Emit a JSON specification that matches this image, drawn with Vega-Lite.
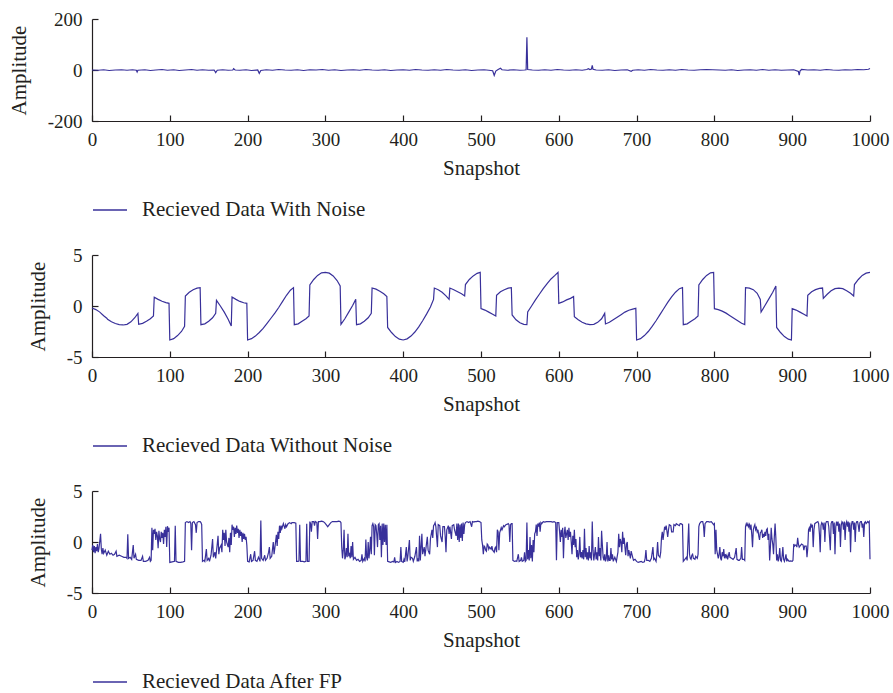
{
"$schema": "https://vega.github.io/schema/vega-lite/v6.json",
"background": "white",
"padding": {"left": 8, "top": 10, "right": 5, "bottom": 5},
"bounds": "flush",
"spacing": 134,
"config": {
  "font": "Liberation Serif",
  "view": {"stroke": null},
  "axis": {"domainColor": "#231f20", "tickColor": "#231f20", "labelColor": "#231f20", "titleColor": "#231f20", "labelFont": "Liberation Serif", "titleFont": "Liberation Serif", "labelFontSize": 19, "titleFontSize": 21, "titleFontWeight": "normal", "grid": false, "tickSize": -6, "labelPadding": 16, "domainWidth": 1.2, "tickWidth": 1.2, "labelFlush": false, "labelExpr": "'' + datum.value"},
  "axisX": {"titlePadding": 8, "labelPadding": 15},
  "axisY": {"titlePadding": 18},
  "legend": {"orient": "none", "legendX": 0, "legendY": 173, "title": null, "padding": 0, "labelFont": "Liberation Serif", "labelFontSize": 21, "labelColor": "#231f20", "labelLimit": 0, "symbolSize": 1156, "symbolStrokeWidth": 1.4, "labelOffset": 14}
},
"resolve": {"scale": {"color": "independent"}, "legend": {"color": "independent"}},
"datasets": {
"p1": [{"x":0,"y":0},{"x":8,"y":-1},{"x":15,"y":1},{"x":22,"y":-2},{"x":30,"y":0},{"x":38,"y":1},{"x":45,"y":-1},{"x":52,"y":1},{"x":57,"y":-1},{"x":58,"y":-8},{"x":59,"y":-1},{"x":68,"y":1},{"x":75,"y":-2},{"x":82,"y":0},{"x":90,"y":2},{"x":97,"y":-1},{"x":105,"y":1},{"x":112,"y":-2},{"x":120,"y":0},{"x":128,"y":2},{"x":135,"y":-1},{"x":142,"y":1},{"x":150,"y":-1},{"x":157,"y":0},{"x":159,"y":-10},{"x":161,"y":-1},{"x":168,"y":1},{"x":175,"y":-1},{"x":181,"y":0},{"x":182,"y":5},{"x":184,"y":0},{"x":190,"y":-1},{"x":198,"y":1},{"x":205,"y":-2},{"x":213,"y":0},{"x":215,"y":-13},{"x":217,"y":-2},{"x":224,"y":1},{"x":232,"y":-1},{"x":240,"y":2},{"x":248,"y":0},{"x":256,"y":-1},{"x":264,"y":1},{"x":272,"y":-2},{"x":280,"y":1},{"x":288,"y":0},{"x":296,"y":2},{"x":304,"y":-1},{"x":312,"y":1},{"x":320,"y":-2},{"x":328,"y":0},{"x":336,"y":1},{"x":344,"y":-1},{"x":352,"y":2},{"x":360,"y":0},{"x":368,"y":-1},{"x":376,"y":1},{"x":384,"y":-2},{"x":392,"y":0},{"x":400,"y":1},{"x":408,"y":-1},{"x":416,"y":2},{"x":424,"y":0},{"x":432,"y":-1},{"x":440,"y":1},{"x":448,"y":-1},{"x":456,"y":2},{"x":464,"y":0},{"x":472,"y":-1},{"x":480,"y":1},{"x":488,"y":-2},{"x":496,"y":0},{"x":504,"y":1},{"x":510,"y":-1},{"x":515,"y":-3},{"x":517,"y":-21},{"x":519,"y":-4},{"x":522,"y":2},{"x":525,"y":7},{"x":527,"y":1},{"x":534,"y":-1},{"x":542,"y":1},{"x":550,"y":-1},{"x":556,"y":0},{"x":558,"y":1},{"x":559,"y":128},{"x":560,"y":2},{"x":566,"y":0},{"x":574,"y":-1},{"x":582,"y":1},{"x":590,"y":-1},{"x":598,"y":2},{"x":606,"y":0},{"x":614,"y":-1},{"x":622,"y":1},{"x":630,"y":-1},{"x":636,"y":2},{"x":638,"y":5},{"x":640,"y":2},{"x":642,"y":4},{"x":643,"y":18},{"x":644,"y":3},{"x":648,"y":0},{"x":656,"y":-1},{"x":664,"y":1},{"x":672,"y":-2},{"x":680,"y":0},{"x":688,"y":1},{"x":693,"y":-5},{"x":695,"y":-1},{"x":702,"y":1},{"x":710,"y":-1},{"x":718,"y":2},{"x":726,"y":0},{"x":734,"y":-1},{"x":742,"y":1},{"x":750,"y":-1},{"x":758,"y":2},{"x":766,"y":0},{"x":774,"y":-1},{"x":782,"y":1},{"x":790,"y":2},{"x":798,"y":1},{"x":806,"y":0},{"x":814,"y":-1},{"x":822,"y":1},{"x":830,"y":-2},{"x":838,"y":0},{"x":846,"y":1},{"x":854,"y":-1},{"x":862,"y":2},{"x":870,"y":-1},{"x":878,"y":1},{"x":886,"y":-1},{"x":894,"y":0},{"x":902,"y":1},{"x":908,"y":-6},{"x":909,"y":-20},{"x":910,"y":-4},{"x":912,"y":2},{"x":920,"y":0},{"x":928,"y":1},{"x":936,"y":-1},{"x":944,"y":2},{"x":952,"y":0},{"x":960,"y":-1},{"x":968,"y":1},{"x":976,"y":0},{"x":984,"y":2},{"x":992,"y":1},{"x":998,"y":3},{"x":1000,"y":6}],
"p2": [{"x":0,"y":-0.2},{"x":5,"y":-0.35},{"x":10,"y":-0.6},{"x":15,"y":-0.95},{"x":19,"y":-1.2},{"x":20,"y":-1.3},{"x":25,"y":-1.55},{"x":30,"y":-1.72},{"x":35,"y":-1.83},{"x":40,"y":-1.86},{"x":45,"y":-1.8},{"x":50,"y":-1.55},{"x":55,"y":-1.15},{"x":59,"y":-0.72},{"x":60,"y":-1.8},{"x":65,"y":-1.7},{"x":70,"y":-1.5},{"x":75,"y":-1.25},{"x":79,"y":-0.98},{"x":80,"y":0.85},{"x":85,"y":0.65},{"x":90,"y":0.47},{"x":95,"y":0.33},{"x":99,"y":0.26},{"x":100,"y":-3.33},{"x":105,"y":-3.2},{"x":110,"y":-2.9},{"x":115,"y":-2.5},{"x":119,"y":-2.0},{"x":120,"y":0.98},{"x":125,"y":1.35},{"x":130,"y":1.6},{"x":135,"y":1.75},{"x":139,"y":1.8},{"x":140,"y":-1.83},{"x":145,"y":-1.75},{"x":150,"y":-1.5},{"x":155,"y":-1.15},{"x":159,"y":-0.72},{"x":160,"y":0.55},{"x":165,"y":0.0},{"x":170,"y":-0.6},{"x":175,"y":-1.3},{"x":179,"y":-1.96},{"x":180,"y":0.88},{"x":185,"y":0.65},{"x":190,"y":0.45},{"x":195,"y":0.32},{"x":199,"y":0.26},{"x":200,"y":-3.33},{"x":205,"y":-3.2},{"x":210,"y":-2.95},{"x":215,"y":-2.6},{"x":220,"y":-2.2},{"x":225,"y":-1.7},{"x":230,"y":-1.2},{"x":235,"y":-0.7},{"x":240,"y":-0.15},{"x":245,"y":0.45},{"x":250,"y":1.05},{"x":255,"y":1.55},{"x":259,"y":1.8},{"x":260,"y":-1.83},{"x":265,"y":-1.75},{"x":270,"y":-1.5},{"x":275,"y":-1.25},{"x":279,"y":-0.98},{"x":280,"y":2.06},{"x":285,"y":2.6},{"x":290,"y":3.0},{"x":295,"y":3.25},{"x":300,"y":3.3},{"x":305,"y":3.22},{"x":310,"y":2.95},{"x":315,"y":2.5},{"x":319,"y":1.96},{"x":320,"y":-1.8},{"x":325,"y":-1.25},{"x":330,"y":-0.6},{"x":335,"y":0.05},{"x":339,"y":0.65},{"x":340,"y":-1.83},{"x":345,"y":-1.75},{"x":350,"y":-1.5},{"x":355,"y":-1.15},{"x":359,"y":-0.72},{"x":360,"y":1.76},{"x":365,"y":1.65},{"x":370,"y":1.45},{"x":375,"y":1.2},{"x":379,"y":0.92},{"x":380,"y":-2.1},{"x":385,"y":-2.6},{"x":390,"y":-3.0},{"x":395,"y":-3.25},{"x":400,"y":-3.33},{"x":405,"y":-3.22},{"x":410,"y":-2.95},{"x":415,"y":-2.55},{"x":420,"y":-2.05},{"x":425,"y":-1.45},{"x":430,"y":-0.8},{"x":435,"y":-0.1},{"x":439,"y":0.65},{"x":440,"y":1.76},{"x":445,"y":1.6},{"x":450,"y":1.35},{"x":455,"y":1.0},{"x":459,"y":0.65},{"x":460,"y":1.76},{"x":465,"y":1.6},{"x":470,"y":1.4},{"x":475,"y":1.2},{"x":479,"y":0.98},{"x":480,"y":2.1},{"x":485,"y":2.6},{"x":490,"y":2.95},{"x":495,"y":3.2},{"x":499,"y":3.3},{"x":500,"y":-0.26},{"x":505,"y":-0.4},{"x":510,"y":-0.6},{"x":515,"y":-0.8},{"x":519,"y":-0.98},{"x":520,"y":1.05},{"x":525,"y":1.4},{"x":530,"y":1.6},{"x":535,"y":1.75},{"x":539,"y":1.8},{"x":540,"y":-0.88},{"x":545,"y":-1.35},{"x":550,"y":-1.65},{"x":555,"y":-1.8},{"x":559,"y":-1.83},{"x":560,"y":-0.59},{"x":565,"y":0.0},{"x":570,"y":0.6},{"x":575,"y":1.15},{"x":580,"y":1.7},{"x":585,"y":2.2},{"x":590,"y":2.65},{"x":595,"y":3.0},{"x":599,"y":3.3},{"x":600,"y":0.26},{"x":605,"y":0.4},{"x":610,"y":0.6},{"x":615,"y":0.75},{"x":619,"y":0.92},{"x":620,"y":-1.05},{"x":625,"y":-1.35},{"x":630,"y":-1.6},{"x":635,"y":-1.75},{"x":640,"y":-1.83},{"x":645,"y":-1.8},{"x":650,"y":-1.6},{"x":655,"y":-1.25},{"x":659,"y":-0.72},{"x":660,"y":-1.76},{"x":665,"y":-1.6},{"x":670,"y":-1.35},{"x":675,"y":-1.1},{"x":680,"y":-0.85},{"x":685,"y":-0.6},{"x":690,"y":-0.42},{"x":695,"y":-0.3},{"x":699,"y":-0.23},{"x":700,"y":-3.33},{"x":705,"y":-3.2},{"x":710,"y":-2.9},{"x":715,"y":-2.5},{"x":720,"y":-2.0},{"x":725,"y":-1.45},{"x":730,"y":-0.85},{"x":735,"y":-0.25},{"x":740,"y":0.35},{"x":745,"y":0.9},{"x":750,"y":1.35},{"x":755,"y":1.7},{"x":759,"y":1.8},{"x":760,"y":-1.83},{"x":765,"y":-1.75},{"x":770,"y":-1.5},{"x":775,"y":-1.25},{"x":779,"y":-0.98},{"x":780,"y":2.06},{"x":785,"y":2.6},{"x":790,"y":3.0},{"x":795,"y":3.25},{"x":799,"y":3.3},{"x":800,"y":-0.26},{"x":805,"y":-0.35},{"x":810,"y":-0.5},{"x":815,"y":-0.7},{"x":820,"y":-0.95},{"x":825,"y":-1.2},{"x":830,"y":-1.45},{"x":835,"y":-1.7},{"x":839,"y":-1.83},{"x":840,"y":1.8},{"x":845,"y":1.75},{"x":850,"y":1.6},{"x":855,"y":1.25},{"x":859,"y":0.65},{"x":860,"y":-0.59},{"x":865,"y":0.05},{"x":870,"y":0.7},{"x":875,"y":1.35},{"x":879,"y":1.96},{"x":880,"y":-2.1},{"x":885,"y":-2.6},{"x":890,"y":-3.0},{"x":895,"y":-3.25},{"x":899,"y":-3.33},{"x":900,"y":-0.26},{"x":905,"y":-0.4},{"x":910,"y":-0.6},{"x":915,"y":-0.8},{"x":919,"y":-0.98},{"x":920,"y":1.05},{"x":925,"y":1.4},{"x":930,"y":1.6},{"x":935,"y":1.72},{"x":939,"y":1.76},{"x":940,"y":0.75},{"x":945,"y":1.15},{"x":950,"y":1.5},{"x":955,"y":1.7},{"x":960,"y":1.76},{"x":965,"y":1.7},{"x":970,"y":1.5},{"x":975,"y":1.25},{"x":979,"y":0.98},{"x":980,"y":2.1},{"x":985,"y":2.6},{"x":990,"y":3.0},{"x":995,"y":3.22},{"x":1000,"y":3.3}],
"p3": [{"x":0,"y":-0.8},{"x":1,"y":-0.3},{"x":2,"y":-1.0},{"x":3,"y":-0.4},{"x":4,"y":-1.1},{"x":5,"y":-0.5},{"x":6,"y":-0.9},{"x":7,"y":-0.2},{"x":8,"y":-1.0},{"x":9,"y":-0.6},{"x":10,"y":0.1},{"x":11,"y":0.8},{"x":12,"y":-0.7},{"x":13,"y":-1.2},{"x":14,"y":-0.6},{"x":15,"y":-1.1},{"x":17,"y":-0.8},{"x":19,"y":-1.3},{"x":21,"y":-0.9},{"x":23,"y":-1.2},{"x":25,"y":-1.1},{"x":27,"y":-1.3},{"x":29,"y":-1.2},{"x":31,"y":-0.9},{"x":32,"y":-1.4},{"x":35,"y":-1.3},{"x":38,"y":-1.4},{"x":41,"y":-1.5},{"x":44,"y":-1.5},{"x":45,"y":-1.6},{"x":46,"y":0.75},{"x":47,"y":-1.6},{"x":49,"y":-1.5},{"x":51,"y":-1.7},{"x":53,"y":-0.3},{"x":54,"y":-1.6},{"x":56,"y":-1.2},{"x":57,"y":-1.7},{"x":60,"y":-1.8},{"x":63,"y":-1.8},{"x":65,"y":-1.4},{"x":66,"y":-1.9},{"x":69,"y":-1.9},{"x":72,"y":-1.8},{"x":74,"y":-1.5},{"x":75,"y":-1.9},{"x":76,"y":-1.8},{"x":77,"y":1.4},{"x":78,"y":-0.8},{"x":79,"y":1.2},{"x":80,"y":0.8},{"x":81,"y":1.3},{"x":82,"y":0.2},{"x":83,"y":1.0},{"x":84,"y":0.6},{"x":85,"y":-0.6},{"x":86,"y":1.1},{"x":87,"y":0.3},{"x":88,"y":0.0},{"x":89,"y":1.0},{"x":90,"y":0.4},{"x":91,"y":0.9},{"x":92,"y":-0.2},{"x":93,"y":1.2},{"x":94,"y":0.5},{"x":95,"y":1.5},{"x":96,"y":-0.5},{"x":97,"y":1.55},{"x":98,"y":1.0},{"x":99,"y":1.4},{"x":100,"y":-2.0},{"x":103,"y":-1.95},{"x":106,"y":-1.9},{"x":107,"y":1.6},{"x":108,"y":-1.9},{"x":111,"y":-2.0},{"x":114,"y":-2.0},{"x":117,"y":-1.95},{"x":119,"y":-1.9},{"x":120,"y":1.9},{"x":122,"y":2.0},{"x":124,"y":1.9},{"x":126,"y":2.0},{"x":127,"y":1.8},{"x":128,"y":-0.8},{"x":129,"y":1.9},{"x":131,"y":2.0},{"x":133,"y":1.7},{"x":134,"y":0.9},{"x":135,"y":1.9},{"x":137,"y":2.0},{"x":139,"y":2.0},{"x":140,"y":1.9},{"x":141,"y":1.7},{"x":142,"y":-1.9},{"x":144,"y":-1.8},{"x":145,"y":-1.9},{"x":147,"y":-0.7},{"x":148,"y":-1.8},{"x":150,"y":-1.6},{"x":151,"y":-1.9},{"x":153,"y":-1.3},{"x":155,"y":0.3},{"x":156,"y":-1.5},{"x":158,"y":-1.0},{"x":159,"y":-1.6},{"x":161,"y":-0.2},{"x":162,"y":0.6},{"x":163,"y":-1.2},{"x":164,"y":-0.6},{"x":166,"y":-0.3},{"x":167,"y":-1.0},{"x":168,"y":1.2},{"x":169,"y":0.2},{"x":170,"y":0.9},{"x":171,"y":-0.4},{"x":172,"y":1.2},{"x":173,"y":0.0},{"x":175,"y":-0.5},{"x":176,"y":0.4},{"x":177,"y":-1.0},{"x":178,"y":0.9},{"x":179,"y":-0.3},{"x":180,"y":1.7},{"x":181,"y":1.2},{"x":182,"y":1.5},{"x":183,"y":0.5},{"x":184,"y":1.4},{"x":185,"y":0.8},{"x":186,"y":1.6},{"x":187,"y":0.9},{"x":188,"y":1.3},{"x":189,"y":0.4},{"x":190,"y":1.2},{"x":191,"y":0.6},{"x":192,"y":1.0},{"x":193,"y":0.0},{"x":194,"y":0.9},{"x":195,"y":0.3},{"x":196,"y":0.8},{"x":197,"y":0.2},{"x":198,"y":0.5},{"x":199,"y":-0.3},{"x":200,"y":-1.9},{"x":202,"y":-1.95},{"x":204,"y":-1.2},{"x":205,"y":-1.9},{"x":207,"y":-1.8},{"x":209,"y":-0.9},{"x":210,"y":-1.8},{"x":212,"y":-1.9},{"x":214,"y":-1.5},{"x":216,"y":-1.9},{"x":217,"y":2.1},{"x":218,"y":-1.6},{"x":220,"y":-1.8},{"x":222,"y":-1.3},{"x":223,"y":-1.8},{"x":225,"y":-1.6},{"x":227,"y":-1.0},{"x":228,"y":-0.5},{"x":229,"y":-1.6},{"x":231,"y":-1.4},{"x":233,"y":0.0},{"x":234,"y":-1.2},{"x":235,"y":-0.6},{"x":237,"y":0.7},{"x":238,"y":-0.4},{"x":239,"y":1.0},{"x":240,"y":0.3},{"x":241,"y":1.6},{"x":242,"y":0.9},{"x":243,"y":1.6},{"x":244,"y":1.3},{"x":246,"y":1.8},{"x":248,"y":1.3},{"x":249,"y":1.7},{"x":250,"y":1.5},{"x":252,"y":1.8},{"x":254,"y":1.9},{"x":256,"y":1.8},{"x":257,"y":1.9},{"x":259,"y":1.9},{"x":260,"y":1.9},{"x":262,"y":1.85},{"x":263,"y":-1.9},{"x":265,"y":-1.9},{"x":266,"y":-1.85},{"x":267,"y":1.7},{"x":268,"y":-1.9},{"x":271,"y":-1.9},{"x":273,"y":-1.95},{"x":275,"y":-1.9},{"x":276,"y":1.8},{"x":277,"y":-1.9},{"x":279,"y":-1.9},{"x":280,"y":2.0},{"x":281,"y":1.8},{"x":282,"y":1.0},{"x":283,"y":2.0},{"x":285,"y":2.0},{"x":286,"y":1.6},{"x":287,"y":2.0},{"x":289,"y":1.9},{"x":290,"y":0.3},{"x":291,"y":2.0},{"x":293,"y":2.0},{"x":295,"y":2.05},{"x":297,"y":2.0},{"x":299,"y":1.9},{"x":301,"y":1.7},{"x":303,"y":1.5},{"x":305,"y":1.7},{"x":307,"y":1.9},{"x":309,"y":2.0},{"x":311,"y":2.0},{"x":313,"y":2.0},{"x":315,"y":2.0},{"x":317,"y":2.05},{"x":319,"y":2.0},{"x":320,"y":1.9},{"x":321,"y":-0.5},{"x":322,"y":-1.6},{"x":323,"y":-0.8},{"x":324,"y":1.2},{"x":325,"y":-1.7},{"x":326,"y":-1.4},{"x":327,"y":-0.6},{"x":328,"y":-1.5},{"x":329,"y":0.8},{"x":330,"y":-1.4},{"x":331,"y":-1.2},{"x":332,"y":-1.6},{"x":333,"y":-0.4},{"x":334,"y":-1.5},{"x":335,"y":0.0},{"x":336,"y":-1.7},{"x":338,"y":-1.5},{"x":340,"y":-1.8},{"x":342,"y":-1.7},{"x":344,"y":-1.9},{"x":346,"y":-1.8},{"x":347,"y":-1.2},{"x":348,"y":-1.9},{"x":350,"y":-1.6},{"x":351,"y":-1.9},{"x":352,"y":0.25},{"x":353,"y":-1.5},{"x":354,"y":-1.8},{"x":355,"y":0.0},{"x":356,"y":-1.6},{"x":357,"y":-0.8},{"x":358,"y":0.5},{"x":359,"y":-1.2},{"x":360,"y":1.6},{"x":361,"y":1.8},{"x":362,"y":1.5},{"x":363,"y":-1.3},{"x":364,"y":1.7},{"x":365,"y":1.6},{"x":366,"y":0.8},{"x":367,"y":-0.5},{"x":368,"y":1.7},{"x":369,"y":1.8},{"x":370,"y":0.2},{"x":371,"y":1.6},{"x":372,"y":-1.5},{"x":373,"y":1.8},{"x":374,"y":-0.3},{"x":375,"y":1.8},{"x":376,"y":0.0},{"x":377,"y":1.7},{"x":378,"y":-0.3},{"x":379,"y":1.7},{"x":380,"y":-1.9},{"x":382,"y":-1.95},{"x":384,"y":-2.0},{"x":386,"y":-1.9},{"x":388,"y":-1.95},{"x":389,"y":-1.5},{"x":390,"y":-2.0},{"x":392,"y":-1.9},{"x":394,"y":-2.0},{"x":396,"y":-1.9},{"x":397,"y":-0.5},{"x":398,"y":-1.9},{"x":400,"y":-2.0},{"x":401,"y":-1.7},{"x":402,"y":-1.95},{"x":404,"y":-0.5},{"x":405,"y":-1.9},{"x":406,"y":-1.4},{"x":408,"y":0.2},{"x":409,"y":-1.8},{"x":410,"y":-1.5},{"x":412,"y":-1.6},{"x":413,"y":-1.9},{"x":415,"y":-1.4},{"x":417,"y":-0.5},{"x":418,"y":-1.9},{"x":419,"y":-1.6},{"x":420,"y":-1.9},{"x":421,"y":0.6},{"x":422,"y":-1.8},{"x":424,"y":0.8},{"x":425,"y":-1.2},{"x":427,"y":-0.5},{"x":428,"y":-1.4},{"x":431,"y":0.5},{"x":432,"y":-0.8},{"x":434,"y":-1.2},{"x":435,"y":0.3},{"x":437,"y":1.2},{"x":438,"y":0.4},{"x":439,"y":1.6},{"x":440,"y":1.7},{"x":441,"y":1.9},{"x":442,"y":1.5},{"x":444,"y":-0.5},{"x":445,"y":1.7},{"x":447,"y":1.6},{"x":448,"y":0.6},{"x":450,"y":0.0},{"x":451,"y":1.5},{"x":453,"y":1.5},{"x":454,"y":0.5},{"x":455,"y":-1.0},{"x":456,"y":1.2},{"x":458,"y":1.6},{"x":459,"y":0.8},{"x":460,"y":1.5},{"x":462,"y":0.3},{"x":463,"y":1.6},{"x":465,"y":1.7},{"x":466,"y":1.2},{"x":468,"y":0.6},{"x":469,"y":1.8},{"x":470,"y":0.2},{"x":471,"y":1.8},{"x":472,"y":0.0},{"x":473,"y":1.7},{"x":474,"y":0.4},{"x":475,"y":1.8},{"x":476,"y":0.1},{"x":477,"y":1.9},{"x":478,"y":0.8},{"x":479,"y":1.7},{"x":480,"y":1.9},{"x":482,"y":2.0},{"x":484,"y":1.9},{"x":486,"y":2.0},{"x":488,"y":1.5},{"x":489,"y":2.0},{"x":491,"y":1.95},{"x":492,"y":2.0},{"x":494,"y":2.0},{"x":496,"y":2.05},{"x":498,"y":2.0},{"x":500,"y":1.9},{"x":501,"y":0.2},{"x":502,"y":-0.3},{"x":503,"y":-1.2},{"x":504,"y":-0.4},{"x":505,"y":-0.5},{"x":506,"y":-0.8},{"x":507,"y":-0.9},{"x":508,"y":-0.2},{"x":509,"y":-0.3},{"x":510,"y":-0.7},{"x":511,"y":-0.5},{"x":513,"y":-0.7},{"x":514,"y":-0.4},{"x":515,"y":-0.8},{"x":517,"y":-1.0},{"x":518,"y":-0.6},{"x":519,"y":-0.5},{"x":520,"y":-1.0},{"x":521,"y":1.2},{"x":522,"y":1.0},{"x":523,"y":-0.8},{"x":524,"y":0.9},{"x":526,"y":1.4},{"x":527,"y":1.2},{"x":529,"y":1.6},{"x":530,"y":1.5},{"x":532,"y":1.7},{"x":534,"y":1.75},{"x":535,"y":1.8},{"x":536,"y":1.7},{"x":537,"y":0.0},{"x":538,"y":1.7},{"x":539,"y":1.8},{"x":540,"y":1.8},{"x":541,"y":-1.8},{"x":543,"y":-1.9},{"x":545,"y":-1.85},{"x":546,"y":-1.9},{"x":548,"y":-1.2},{"x":549,"y":-1.9},{"x":551,"y":-1.8},{"x":552,"y":-1.5},{"x":553,"y":-1.9},{"x":555,"y":-1.8},{"x":556,"y":-1.0},{"x":557,"y":-1.9},{"x":558,"y":-1.8},{"x":559,"y":1.9},{"x":560,"y":-1.7},{"x":561,"y":-0.8},{"x":562,"y":-1.8},{"x":563,"y":0.5},{"x":564,"y":-1.6},{"x":565,"y":-0.3},{"x":566,"y":-1.9},{"x":567,"y":0.2},{"x":568,"y":-1.0},{"x":569,"y":0.8},{"x":570,"y":1.0},{"x":571,"y":1.7},{"x":572,"y":0.6},{"x":573,"y":1.8},{"x":574,"y":1.5},{"x":575,"y":1.9},{"x":576,"y":1.0},{"x":577,"y":1.9},{"x":578,"y":1.8},{"x":580,"y":2.0},{"x":582,"y":1.95},{"x":584,"y":2.0},{"x":587,"y":2.0},{"x":590,"y":2.0},{"x":592,"y":1.95},{"x":594,"y":2.0},{"x":596,"y":1.9},{"x":597,"y":-1.8},{"x":598,"y":1.9},{"x":600,"y":1.9},{"x":601,"y":1.0},{"x":602,"y":0.0},{"x":603,"y":1.2},{"x":604,"y":0.5},{"x":605,"y":1.4},{"x":606,"y":-1.6},{"x":607,"y":0.8},{"x":608,"y":1.5},{"x":609,"y":0.4},{"x":610,"y":0.8},{"x":611,"y":1.2},{"x":612,"y":0.2},{"x":613,"y":1.4},{"x":614,"y":0.5},{"x":615,"y":1.0},{"x":616,"y":0.0},{"x":617,"y":-1.2},{"x":618,"y":0.6},{"x":619,"y":-0.3},{"x":620,"y":1.2},{"x":621,"y":-0.5},{"x":622,"y":0.3},{"x":623,"y":-1.5},{"x":624,"y":-0.8},{"x":625,"y":-1.7},{"x":626,"y":-1.2},{"x":627,"y":0.5},{"x":628,"y":-1.5},{"x":629,"y":-1.0},{"x":630,"y":-1.6},{"x":631,"y":-0.8},{"x":632,"y":-1.7},{"x":633,"y":1.3},{"x":634,"y":-1.5},{"x":635,"y":-0.6},{"x":636,"y":-1.7},{"x":637,"y":-1.0},{"x":638,"y":-1.8},{"x":639,"y":-0.4},{"x":640,"y":-1.6},{"x":641,"y":-1.0},{"x":642,"y":-1.8},{"x":643,"y":2.0},{"x":644,"y":-0.8},{"x":645,"y":-1.8},{"x":646,"y":-1.2},{"x":647,"y":-0.5},{"x":648,"y":-1.7},{"x":649,"y":-1.0},{"x":650,"y":-1.8},{"x":651,"y":0.5},{"x":652,"y":-1.4},{"x":653,"y":-0.6},{"x":654,"y":-1.8},{"x":655,"y":1.1},{"x":656,"y":-0.3},{"x":657,"y":-1.5},{"x":658,"y":-1.8},{"x":659,"y":-1.2},{"x":660,"y":-1.9},{"x":661,"y":-1.6},{"x":662,"y":0.0},{"x":663,"y":-1.9},{"x":664,"y":-1.3},{"x":665,"y":-1.8},{"x":666,"y":-1.8},{"x":667,"y":-0.6},{"x":668,"y":-1.7},{"x":669,"y":-1.2},{"x":670,"y":-1.9},{"x":672,"y":-1.5},{"x":674,"y":-1.9},{"x":676,"y":-1.0},{"x":677,"y":0.8},{"x":678,"y":-0.5},{"x":679,"y":0.3},{"x":680,"y":0.0},{"x":681,"y":-1.0},{"x":682,"y":1.0},{"x":683,"y":-0.2},{"x":684,"y":0.4},{"x":685,"y":-0.5},{"x":686,"y":-1.3},{"x":687,"y":-0.2},{"x":688,"y":0.0},{"x":689,"y":-1.4},{"x":690,"y":-0.8},{"x":691,"y":-1.2},{"x":692,"y":-1.6},{"x":693,"y":-0.9},{"x":695,"y":-1.5},{"x":696,"y":-1.8},{"x":698,"y":-1.7},{"x":700,"y":-1.9},{"x":702,"y":-2.0},{"x":704,"y":-1.95},{"x":706,"y":-1.9},{"x":708,"y":-2.0},{"x":710,"y":-1.95},{"x":711,"y":-1.6},{"x":712,"y":-0.8},{"x":713,"y":-1.8},{"x":715,"y":-1.8},{"x":717,"y":-1.9},{"x":719,"y":-1.6},{"x":721,"y":-0.5},{"x":722,"y":-1.7},{"x":723,"y":-1.6},{"x":725,"y":-1.9},{"x":726,"y":-1.2},{"x":727,"y":0.0},{"x":728,"y":-1.3},{"x":730,"y":-1.5},{"x":731,"y":-1.0},{"x":732,"y":0.4},{"x":733,"y":1.0},{"x":734,"y":0.2},{"x":736,"y":1.5},{"x":737,"y":1.2},{"x":738,"y":1.6},{"x":740,"y":0.5},{"x":741,"y":1.2},{"x":742,"y":1.7},{"x":744,"y":1.6},{"x":745,"y":1.0},{"x":747,"y":1.0},{"x":748,"y":1.7},{"x":750,"y":1.6},{"x":751,"y":1.8},{"x":753,"y":1.7},{"x":755,"y":1.6},{"x":756,"y":1.8},{"x":757,"y":1.8},{"x":759,"y":1.7},{"x":760,"y":-1.9},{"x":761,"y":-1.8},{"x":762,"y":-1.7},{"x":764,"y":-1.5},{"x":765,"y":-1.8},{"x":767,"y":1.8},{"x":768,"y":-1.2},{"x":769,"y":-1.6},{"x":770,"y":-1.7},{"x":771,"y":-1.3},{"x":772,"y":-1.2},{"x":773,"y":-1.6},{"x":775,"y":-1.7},{"x":776,"y":-1.4},{"x":778,"y":-1.6},{"x":779,"y":-1.2},{"x":780,"y":1.5},{"x":781,"y":1.8},{"x":782,"y":1.9},{"x":783,"y":2.0},{"x":785,"y":2.0},{"x":786,"y":1.6},{"x":787,"y":0.5},{"x":788,"y":1.8},{"x":790,"y":2.0},{"x":792,"y":2.0},{"x":794,"y":1.95},{"x":796,"y":2.0},{"x":798,"y":1.8},{"x":799,"y":1.7},{"x":800,"y":1.8},{"x":801,"y":-1.2},{"x":802,"y":1.2},{"x":803,"y":-0.8},{"x":805,"y":-1.6},{"x":806,"y":-1.2},{"x":807,"y":-0.5},{"x":808,"y":-1.6},{"x":809,"y":-1.8},{"x":810,"y":-1.0},{"x":811,"y":-1.4},{"x":812,"y":-0.7},{"x":813,"y":-1.6},{"x":814,"y":-1.2},{"x":815,"y":-1.5},{"x":816,"y":-1.3},{"x":817,"y":-1.7},{"x":819,"y":-1.0},{"x":820,"y":-1.5},{"x":822,"y":-1.6},{"x":824,"y":-1.7},{"x":826,"y":-1.5},{"x":828,"y":-0.6},{"x":829,"y":-1.7},{"x":831,"y":-1.8},{"x":832,"y":-1.8},{"x":834,"y":-1.6},{"x":835,"y":-0.5},{"x":836,"y":-1.7},{"x":838,"y":-1.7},{"x":839,"y":-1.8},{"x":840,"y":1.5},{"x":841,"y":1.8},{"x":842,"y":1.6},{"x":843,"y":1.8},{"x":844,"y":1.5},{"x":845,"y":1.7},{"x":846,"y":1.2},{"x":847,"y":1.7},{"x":848,"y":0.8},{"x":849,"y":-0.5},{"x":850,"y":1.2},{"x":851,"y":1.5},{"x":852,"y":1.7},{"x":853,"y":1.2},{"x":854,"y":1.4},{"x":855,"y":1.0},{"x":856,"y":1.2},{"x":857,"y":0.6},{"x":858,"y":0.2},{"x":859,"y":0.9},{"x":860,"y":1.0},{"x":861,"y":1.2},{"x":862,"y":0.4},{"x":863,"y":0.8},{"x":864,"y":0.5},{"x":865,"y":1.0},{"x":866,"y":0.6},{"x":867,"y":1.2},{"x":868,"y":1.3},{"x":869,"y":0.2},{"x":870,"y":0.8},{"x":871,"y":-1.8},{"x":872,"y":-0.5},{"x":873,"y":1.4},{"x":874,"y":0.3},{"x":875,"y":-0.2},{"x":876,"y":-1.2},{"x":877,"y":0.5},{"x":878,"y":1.8},{"x":879,"y":0.4},{"x":880,"y":-1.8},{"x":881,"y":-1.2},{"x":882,"y":-1.9},{"x":883,"y":-1.5},{"x":884,"y":-0.6},{"x":885,"y":-1.8},{"x":886,"y":-1.9},{"x":887,"y":-1.4},{"x":888,"y":-0.5},{"x":889,"y":-1.7},{"x":890,"y":-1.9},{"x":891,"y":-1.6},{"x":892,"y":-1.2},{"x":893,"y":-1.9},{"x":894,"y":-1.7},{"x":896,"y":-1.9},{"x":898,"y":-1.85},{"x":900,"y":-1.9},{"x":901,"y":-1.8},{"x":902,"y":-0.2},{"x":903,"y":-0.4},{"x":904,"y":-0.3},{"x":905,"y":-0.3},{"x":906,"y":-0.5},{"x":907,"y":0.4},{"x":908,"y":-0.2},{"x":909,"y":-0.5},{"x":910,"y":-0.4},{"x":911,"y":-0.3},{"x":912,"y":-0.2},{"x":914,"y":-0.3},{"x":915,"y":-0.8},{"x":916,"y":-0.4},{"x":918,"y":-0.4},{"x":919,"y":-1.5},{"x":920,"y":-0.6},{"x":921,"y":1.2},{"x":922,"y":1.4},{"x":923,"y":1.0},{"x":924,"y":1.8},{"x":925,"y":1.5},{"x":926,"y":1.6},{"x":927,"y":-0.5},{"x":928,"y":1.2},{"x":929,"y":1.8},{"x":931,"y":1.9},{"x":933,"y":2.0},{"x":934,"y":1.8},{"x":935,"y":0.8},{"x":936,"y":-1.0},{"x":937,"y":1.6},{"x":938,"y":1.9},{"x":939,"y":1.8},{"x":940,"y":1.2},{"x":941,"y":1.9},{"x":942,"y":0.0},{"x":943,"y":1.8},{"x":944,"y":2.0},{"x":946,"y":2.0},{"x":947,"y":1.5},{"x":948,"y":0.4},{"x":949,"y":-0.8},{"x":950,"y":1.8},{"x":951,"y":2.0},{"x":952,"y":2.0},{"x":953,"y":0.8},{"x":954,"y":1.9},{"x":955,"y":-1.2},{"x":956,"y":1.5},{"x":957,"y":2.0},{"x":958,"y":1.6},{"x":959,"y":2.0},{"x":960,"y":1.0},{"x":961,"y":1.8},{"x":962,"y":-0.5},{"x":963,"y":1.6},{"x":964,"y":2.0},{"x":965,"y":1.9},{"x":966,"y":1.2},{"x":967,"y":2.0},{"x":968,"y":0.2},{"x":969,"y":1.8},{"x":970,"y":2.0},{"x":971,"y":1.5},{"x":972,"y":2.0},{"x":973,"y":1.0},{"x":974,"y":1.9},{"x":975,"y":-1.0},{"x":976,"y":1.6},{"x":977,"y":2.0},{"x":978,"y":2.0},{"x":979,"y":1.2},{"x":980,"y":1.9},{"x":981,"y":0.0},{"x":982,"y":1.8},{"x":983,"y":2.0},{"x":984,"y":2.0},{"x":985,"y":1.6},{"x":986,"y":1.0},{"x":987,"y":1.9},{"x":988,"y":2.0},{"x":989,"y":2.0},{"x":990,"y":1.4},{"x":991,"y":1.8},{"x":992,"y":0.5},{"x":993,"y":1.9},{"x":994,"y":2.0},{"x":995,"y":1.8},{"x":996,"y":1.9},{"x":997,"y":2.0},{"x":998,"y":1.9},{"x":999,"y":2.0},{"x":1000,"y":-1.7}]
},
"vconcat": [
 {"width": 778, "height": 102, "data": {"name": "p1"},
  "mark": {"type": "line", "strokeWidth": 1.2},
  "encoding": {
   "x": {"field": "x", "type": "quantitative", "scale": {"domain": [0, 1000], "nice": false}, "axis": {"values": [0,100,200,300,400,500,600,700,800,900,1000], "title": "Snapshot"}},
   "y": {"field": "y", "type": "quantitative", "scale": {"domain": [-200, 200], "nice": false}, "axis": {"values": [-200, 0, 200], "title": "Amplitude"}},
   "color": {"datum": "Recieved Data With Noise", "scale": {"range": ["#38309a"]}}
  }},
 {"width": 778, "height": 102, "data": {"name": "p2"},
  "mark": {"type": "line", "strokeWidth": 1.2},
  "encoding": {
   "x": {"field": "x", "type": "quantitative", "scale": {"domain": [0, 1000], "nice": false}, "axis": {"values": [0,100,200,300,400,500,600,700,800,900,1000], "title": "Snapshot"}},
   "y": {"field": "y", "type": "quantitative", "scale": {"domain": [-5, 5], "nice": false}, "axis": {"values": [-5, 0, 5], "title": "Amplitude"}},
   "color": {"datum": "Recieved Data Without Noise", "scale": {"range": ["#38309a"]}}
  }},
 {"width": 778, "height": 102, "data": {"name": "p3"},
  "mark": {"type": "line", "strokeWidth": 1.2},
  "encoding": {
   "x": {"field": "x", "type": "quantitative", "scale": {"domain": [0, 1000], "nice": false}, "axis": {"values": [0,100,200,300,400,500,600,700,800,900,1000], "title": "Snapshot"}},
   "y": {"field": "y", "type": "quantitative", "scale": {"domain": [-5, 5], "nice": false}, "axis": {"values": [-5, 0, 5], "title": "Amplitude"}},
   "color": {"datum": "Recieved Data After FP", "scale": {"range": ["#38309a"]}}
  }}
]
}
